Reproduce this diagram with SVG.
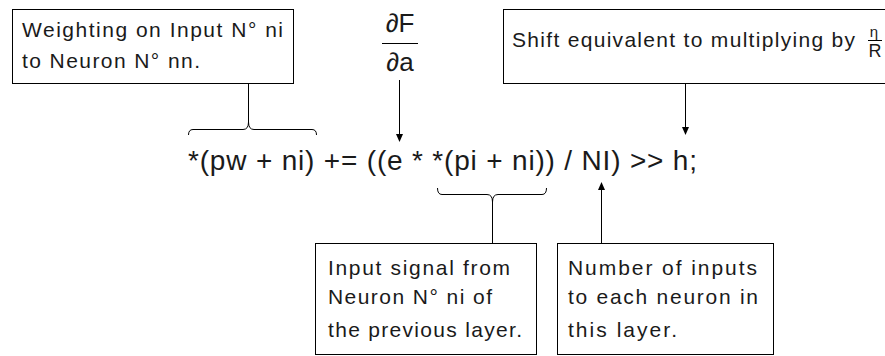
<svg xmlns="http://www.w3.org/2000/svg" width="885" height="356" viewBox="0 0 885 356">
<style>
.box{fill:#fff;stroke:#000;stroke-width:1}
.ln{fill:none;stroke:#000;stroke-width:1}
.t{font-family:"Liberation Sans",Arial,sans-serif;font-size:21px;fill:#1a1a1a}
.f{font-family:"Liberation Sans",Arial,sans-serif;font-size:28px;fill:#1a1a1a}
.m{font-family:"Liberation Sans",Arial,sans-serif;fill:#1a1a1a;text-anchor:middle}
</style>
<defs>
<marker id="ah" markerWidth="8" markerHeight="12" refX="7" refY="3.5" orient="auto" markerUnits="userSpaceOnUse">
<path d="M0,0 L8,3.5 L0,7 Z" fill="#000"/>
</marker>
</defs>
<rect width="885" height="356" fill="#fff"/>

<g id="formula">
<text class="f" x="188" y="170" textLength="509" lengthAdjust="spacing">*(pw + ni) += ((e * *(pi + ni)) / NI) &gt;&gt; h;</text>
</g>

<g id="dfda">
<text class="m" x="400" y="32" font-size="26">∂F</text>
<line class="ln" x1="382" y1="43.5" x2="418" y2="43.5"/>
<text class="m" x="400" y="71" font-size="26">∂a</text>
</g>

<g id="weighting">
<rect class="box" x="12.5" y="9.5" width="281" height="74"/>
<text class="t" x="22" y="37" textLength="261" lengthAdjust="spacing">Weighting on Input N° ni</text>
<text class="t" x="22" y="68" textLength="178" lengthAdjust="spacing">to Neuron N° nn.</text>
</g>

<g id="shift">
<rect class="box" x="503.5" y="9.5" width="390" height="74"/>
<text class="t" x="512" y="47" textLength="343" lengthAdjust="spacing">Shift equivalent to multiplying by</text>
<text class="m" x="874" y="37" font-size="15">η</text>
<line class="ln" x1="868" y1="40.5" x2="882" y2="40.5"/>
<text class="m" x="875" y="57" font-size="18">R</text>
</g>

<g id="input-signal">
<rect class="box" x="315.5" y="243.5" width="221" height="111"/>
<text class="t" x="328" y="275" textLength="182" lengthAdjust="spacing">Input signal from</text>
<text class="t" x="328" y="304" textLength="164" lengthAdjust="spacing">Neuron N° ni of</text>
<text class="t" x="328" y="337" textLength="194" lengthAdjust="spacing">the previous layer.</text>
</g>

<g id="num-inputs">
<rect class="box" x="557.5" y="243.5" width="216" height="111"/>
<text class="t" x="568" y="275" textLength="189" lengthAdjust="spacing">Number of inputs</text>
<text class="t" x="568" y="304" textLength="190" lengthAdjust="spacing">to each neuron in</text>
<text class="t" x="568" y="337" textLength="109" lengthAdjust="spacing">this layer.</text>
</g>

<g id="connectors">
<line class="ln" x1="248.5" y1="84" x2="248.5" y2="122"/>
<path class="ln" d="M188.5,135 Q188.5,129.5 193,129.5 L243,129.5 Q248.5,129.5 248.5,122 Q248.5,129.5 254,129.5 L312,129.5 Q316.5,129.5 316.5,135"/>
<line class="ln" x1="399.5" y1="80" x2="399.5" y2="141" marker-end="url(#ah)"/>
<line class="ln" x1="685.5" y1="84" x2="685.5" y2="134" marker-end="url(#ah)"/>
<path class="ln" d="M437.5,188 Q437.5,194.5 442,194.5 L487,194.5 Q492.5,194.5 492.5,202 Q492.5,194.5 498,194.5 L542,194.5 Q546.5,194.5 546.5,188"/>
<line class="ln" x1="492.5" y1="202" x2="492.5" y2="243"/>
<line class="ln" x1="601.5" y1="243" x2="601.5" y2="183" marker-end="url(#ah)"/>
</g>
</svg>
